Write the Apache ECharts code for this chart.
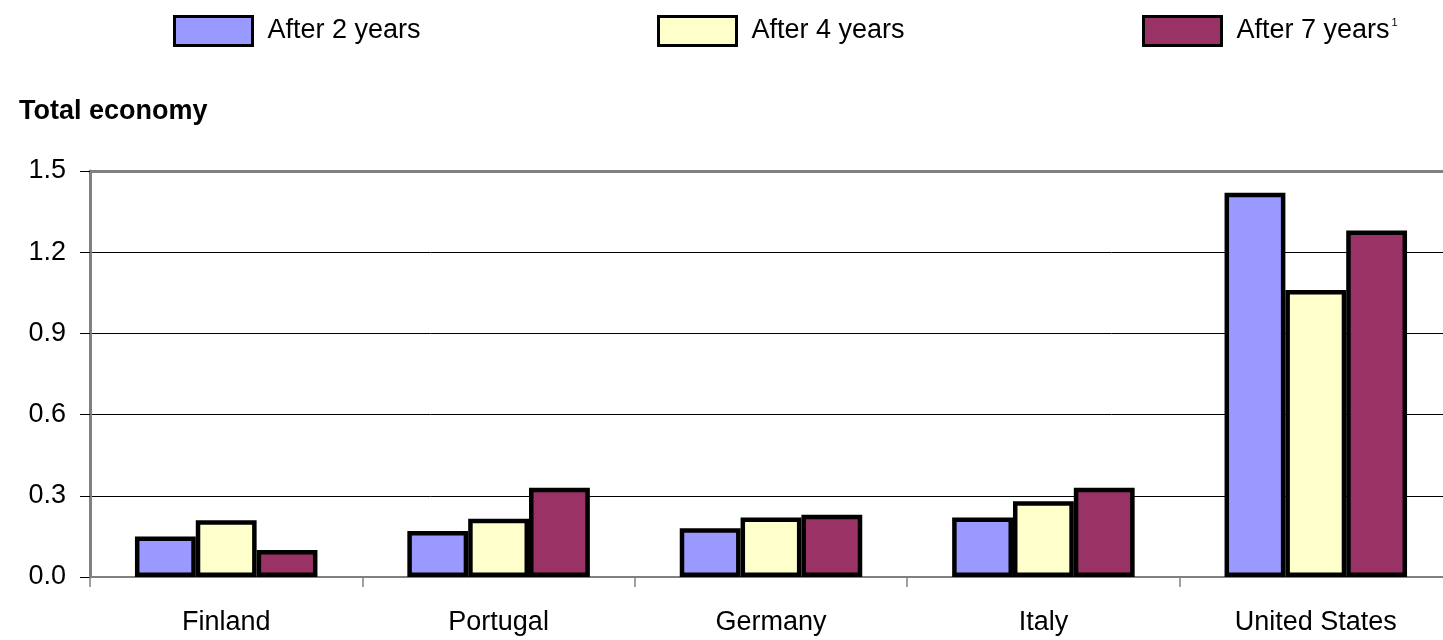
<!DOCTYPE html>
<html><head><meta charset="utf-8">
<script src="https://cdn.jsdelivr.net/npm/echarts@6/dist/echarts.min.js"></script>
<style>html,body{margin:0;padding:0;background:#fff;overflow:hidden}#c{width:1460px;height:640px}</style>
</head><body><div id="c"></div>
<script>
const categories = ['Finland', 'Portugal', 'Germany', 'Italy', 'United States'];
const after2 = [0.15, 0.17, 0.18, 0.22, 1.42];
const after4 = [0.21, 0.215, 0.22, 0.28, 1.06];
const after7 = [0.10, 0.33, 0.23, 0.33, 1.28];
const seriesNames = ['After 2 years', 'After 4 years', 'After 7 years'];
const colors = ['#9999FF', '#FFFFCC', '#993366'];
const FONT = 'Liberation Sans';
const FS = 27;

const chart = echarts.init(document.getElementById('c'));
const legendBase = {
  top: 10, itemWidth: 78, itemHeight: 29, itemGap: 0,
  icon: 'rect',
  textStyle: { fontFamily: FONT, fontSize: FS, color: '#000', padding: [0,0,0,10],
    rich: { s: { fontFamily: FONT, fontSize: 11, color: '#000', verticalAlign: 'top', padding: [0,0,16,2] } } },
  itemStyle: { borderColor: '#000', borderWidth: 3 }
};
chart.setOption({
  animation: false,
  title: { text: 'Total economy', left: 14, top: 93,
    textStyle: { fontFamily: FONT, fontSize: 27, fontWeight: 'bold', color: '#000' } },
  legend: [
    Object.assign({}, legendBase, { left: 168, data: [seriesNames[0]] }),
    Object.assign({}, legendBase, { left: 652, data: [seriesNames[1]] }),
    Object.assign({}, legendBase, { left: 1137, data: [seriesNames[2]],
      formatter: n => n + '{s|1}' })
  ],
  grid: { left: 90, top: 171, width: 1362, height: 406, show: false },
  xAxis: [{
    type: 'category', data: categories,
    axisLine: { lineStyle: { color: '#808080', width: 2 } },
    axisTick: { show: true, length: 10, lineStyle: { color: '#808080', width: 1.5 } },
    axisLabel: { fontFamily: FONT, fontSize: FS, color: '#000', margin: 32 },
    splitLine: { show: false }
  }, {
    type: 'category', data: categories, position: 'top',
    axisLine: { show: true, lineStyle: { color: '#808080', width: 3 } },
    axisTick: { show: false }, axisLabel: { show: false }, splitLine: { show: false }
  }],
  yAxis: {
    type: 'value', min: 0, max: 1.5, interval: 0.3,
    axisLine: { show: true, lineStyle: { color: '#808080', width: 3 } },
    axisTick: { show: true, length: 10, lineStyle: { color: '#000', width: 1 } },
    axisLabel: { fontFamily: FONT, fontSize: FS, color: '#000', margin: 24,
      formatter: v => v.toFixed(1) },
    splitLine: { lineStyle: { color: '#000', width: 1 } }
  },
  series: [after2, after4, after7].map((d, i) => ({
    name: seriesNames[i], type: 'bar', data: d, xAxisIndex: 0,
    barGap: '0%', barCategoryGap: '33%',
    itemStyle: { color: colors[i], borderColor: '#000', borderWidth: 4.5 }
  }))
});
</script></body></html>
